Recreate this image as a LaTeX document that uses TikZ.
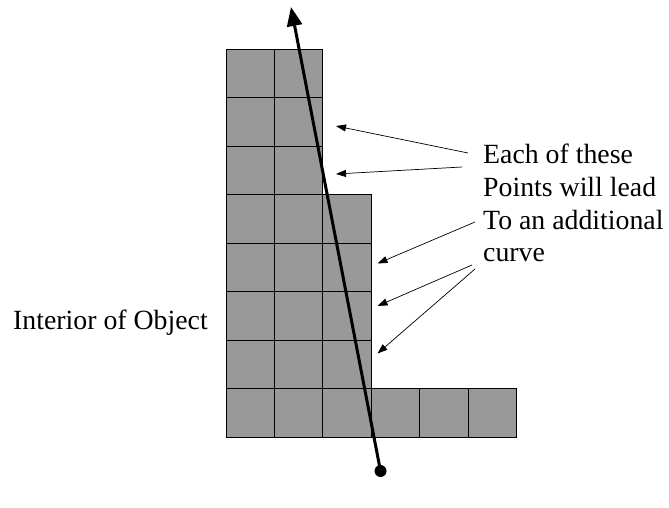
\documentclass[tikz,border=0pt]{standalone}
\usepackage{fontspec}
\setmainfont{Liberation Serif}
\usetikzlibrary{arrows.meta}
\definecolor{cellgray}{RGB}{153,153,153}
\begin{document}
\begin{tikzpicture}[x=1pt,y=-1pt,
  cell/.style={fill=cellgray, draw=black, line width=0.8pt},
  lbl/.style={font=\fontsize{27.8}{32}\selectfont, anchor=base west, inner sep=0pt},
  pointer/.style={-{Triangle[length=10pt,width=7pt]}, line width=0.7pt},
  ray/.style={-{Triangle[length=19pt,width=15pt]}, line width=3pt}]
\useasboundingbox (0,0) rectangle (669,508);
% grid cells
\foreach \i/\j in {0/0,1/0,0/1,1/1,0/2,1/2,0/3,1/3,2/3,0/4,1/4,2/4,0/5,1/5,2/5,0/6,1/6,2/6,0/7,1/7,2/7,3/7,4/7,5/7}
  \draw[cell] (226+48.4*\i, 49.3+48.45*\j) rectangle ++(48.4,48.45);
% labels
\node[lbl] (t1) at (483,164) {Each of these};
\node[lbl] (t2) at (483,196.5) {Points will lead};
\node[lbl] (t3) at (483,229) {To an additional};
\node[lbl] (t4) at (483,261.5) {curve};
\node[lbl] (interior) at (13,329) {Interior of Object};
% ray
\node[circle, fill=black, inner sep=0pt, minimum size=12pt] (start) at (380.5,471) {};
\coordinate (top) at (291,7);
\draw[ray] (start.center) -- (top);
% pointer tails and tips
\coordinate (s1) at (468,153);
\coordinate (s2) at (462,167);
\coordinate (s3) at (475,222);
\coordinate (s4) at (472,265);
\coordinate (s5) at (475,269);
\coordinate (p1) at (336,126);
\coordinate (p2) at (336,174);
\coordinate (p3) at (377.5,263.5);
\coordinate (p4) at (377.5,306);
\coordinate (p5) at (377.5,353.5);
\draw[pointer] (s1) -- (p1);
\draw[pointer] (s2) -- (p2);
\draw[pointer] (s3) -- (p3);
\draw[pointer] (s4) -- (p4);
\draw[pointer] (s5) -- (p5);
\end{tikzpicture}
\end{document}
